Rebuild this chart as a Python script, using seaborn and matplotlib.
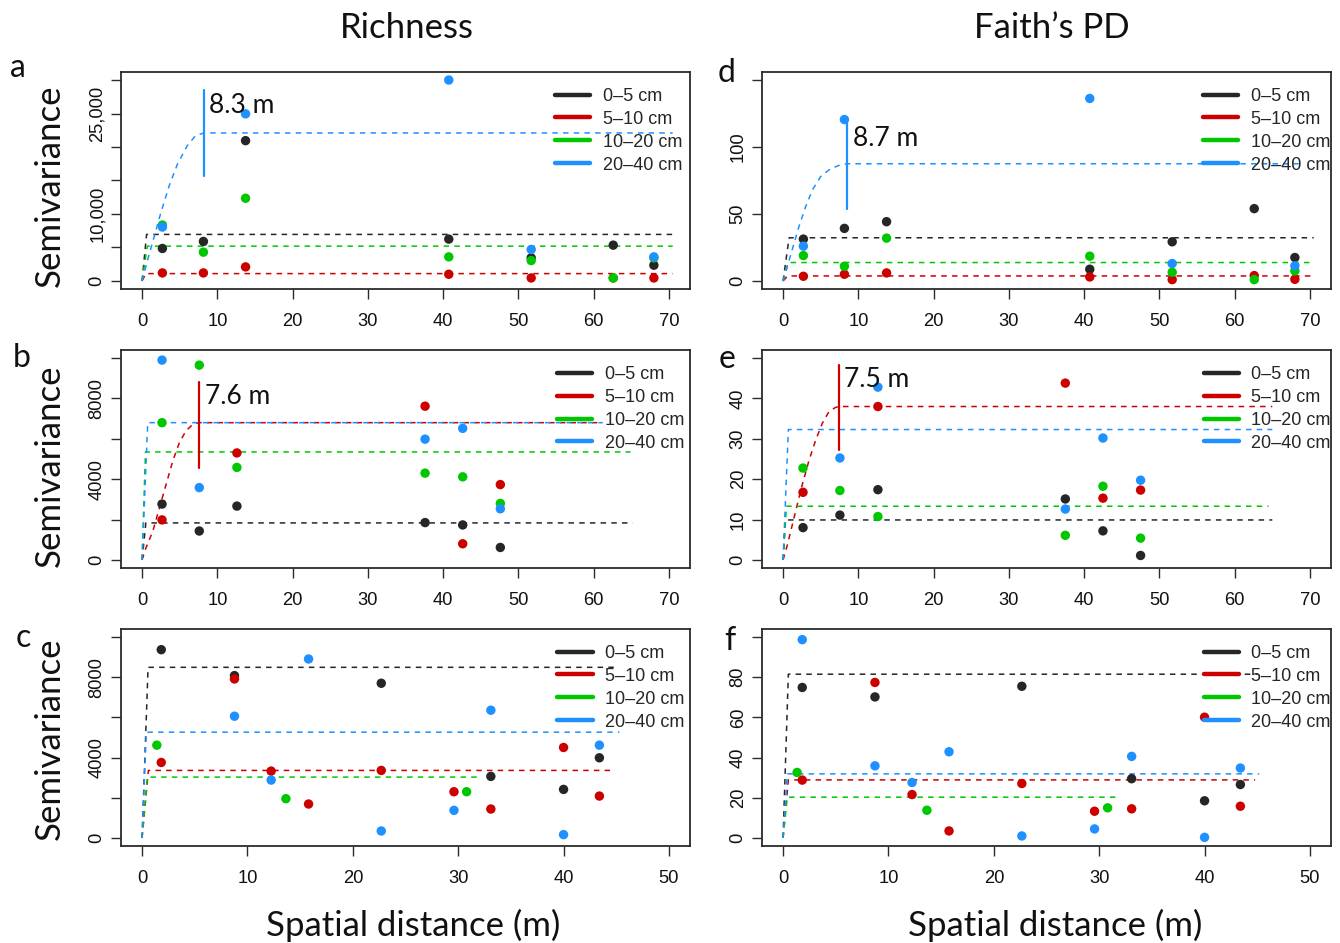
import numpy as np
import pandas as pd
import matplotlib
matplotlib.use("Agg")
import matplotlib.pyplot as plt
from matplotlib.lines import Line2D
import seaborn as sns

# ---------------- data ----------------
DEPTHS = ["0–5 cm", "5–10 cm", "10–20 cm", "20–40 cm"]
COLORS = ["#262626", "#CD0000", "#00C800", "#1E90FF"]

# Panel a : Richness, site 1
A_LAG = [2.7, 8.15, 13.75, 40.75, 51.7, 62.6, 68.0]
A_D1 = [4850, 5900, 20950, 6250, 3450, 5350, 2350]
A_D2 = [1200, 1200, 2100, 1000, 450, 450, 450]
A_D3 = [8350, 4300, 12350, 3600, 3050, 450, 3450]
A_D4 = [8050, None, 24950, 30000, 4700, None, 3600]
A_M1_X, A_M1_Y = [0, 0.6, 70.5], [0, 6950, 6950]
A_M2_X, A_M2_Y = [0, 0.5, 70.5], [0, 1100, 1100]
A_M3_X, A_M3_Y = [0, 0.7, 70.5], [0, 5200, 5200]
A_M4_X = [0, 0.75, 1.63, 2.5, 3.6, 4.7, 6.0, 7.1, 8.25, 70.5]
A_M4_Y = [0, 3200, 6700, 10200, 14200, 17450, 20200, 21700, 22100, 22100]
A_RANGE = [8.25, 15700, 28450]
A_RANGE_TXT = ["8.3 m", 8.9, 26150]

# Panel d : Faith's PD, site 1
D_LAG = [2.7, 8.15, 13.75, 40.75, 51.7, 62.6, 68.0]
D_D1 = [31.25, 39.25, 44.25, 8.75, 29.25, 54, 17.5]
D_D2 = [3.5, 5, 6, 3, 1, 4, 1.25]
D_D3 = [19, 11, 32, 18.5, 6.5, 1, 7.5]
D_D4 = [26, 120.5, None, 136.25, 13, None, 11.25]
D_M1_X, D_M1_Y = [0, 0.8, 70.5], [0, 32.25, 32.25]
D_M2_X, D_M2_Y = [0, 0.6, 70.5], [0, 3.75, 3.75]
D_M3_X, D_M3_Y = [0, 0.7, 70.5], [0, 13.75, 13.75]
D_M4_X = [0, 0.8, 1.46, 2.1, 3.0, 3.9, 5.0, 6.3, 7.65, 8.6, 68.5]
D_M4_Y = [0, 15.5, 28, 40.5, 55.5, 68, 78, 83.75, 86.75, 87.5, 87.5]
D_RANGE = [8.55, 53.5, 118]
D_RANGE_TXT = ["8.7 m", 9.3, 106]

# Panel b : Richness, site 2
B_LAG = [2.65, 7.6, 12.6, 37.6, 42.6, 47.6]
B_D1 = [2767, 1433, 2667, 1850, 1733, 617]
B_D2 = [1983, None, 5300, 7617, 800, 3733]
B_D3 = [6800, 9650, 4583, 4300, 4117, 2800]
B_D4 = [9900, 3583, None, 5983, 6517, 2533]
B_M1_X, B_M1_Y = [0, 0.5, 65.2], [0, 1833, 1833]
B_M2_X = [0, 0.5, 1.42, 2.31, 3.2, 4.09, 4.98, 5.87, 6.76, 7.6, 61.2]
B_M2_Y = [0, 583, 1417, 2583, 3750, 4917, 5833, 6417, 6717, 6800, 6800]
B_M3_X, B_M3_Y = [0, 0.45, 64.9], [0, 5350, 5350]
B_M4_X, B_M4_Y = [0, 0.75, 61.2], [0, 6800, 6800]
B_RANGE = [7.62, 4550, 8820]
B_RANGE_TXT = ["7.6 m", 8.4, 8100]

# Panel e : Faith's PD, site 2
E_LAG = [2.65, 7.55, 12.6, 37.5, 42.5, 47.5]
E_D1 = [8.0, 11.1, 17.4, 15.1, 7.2, 1.1]
E_D2 = [16.75, None, 38.0, 43.8, 15.3, 17.3]
E_D3 = [22.75, 17.2, 10.75, 6.1, 18.25, 5.4]
E_D4 = [None, 25.25, 42.8, 12.6, 30.2, 19.75]
E_M1_X, E_M1_Y = [0, 0.3, 65], [0, 9.9, 9.9]
E_M2_X = [0, 0.58, 1.24, 1.9, 2.57, 3.45, 4.34, 5.2, 6.1, 7.0, 7.5, 65]
E_M2_Y = [0, 3.8, 8.8, 13.8, 18.8, 24.7, 29.7, 33.8, 36.75, 37.8, 38, 38]
E_M3_X, E_M3_Y = [0, 0.45, 64.5], [0, 13.3, 13.3]
E_M4_X, E_M4_Y = [0, 0.7, 65], [0, 32.3, 32.3]
E_RANGE = [7.45, 27.2, 48.4]
E_RANGE_TXT = ["7.5 m", 8.1, 44.7]

# Panel c : Richness, site 3
C_D1_X = [1.82, 8.77, 22.7, 33.1, 40.0, 43.4]
C_D1 = [9371, 8080, 7700, 3063, 2417, 3990]
C_D2_X = [1.82, 8.77, 12.25, 15.8, 22.7, 29.6, 33.1, 40.0, 43.4]
C_D2 = [3758, 7914, 3328, 1689, 3361, 2301, 1440, 4503, 2086]
C_D3_X = [1.4, 13.65, 30.8]
C_D3 = [4619, 1954, 2301]
C_D4_X = [8.77, 12.25, 15.8, 22.7, 29.6, 33.1, 40.0, 43.4]
C_D4 = [6060, 2881, 8907, 348, 1374, 6358, 166, 4619]
C_M1_X, C_M1_Y = [0, 0.57, 45.0], [0, 8493, 8493]
C_M2_X, C_M2_Y = [0, 0.6, 44.9], [0, 3361, 3361]
C_M3_X, C_M3_Y = [0, 0.5, 32.2], [0, 3030, 3030]
C_M4_X, C_M4_Y = [0, 0.4, 45.3], [0, 5265, 5265]

# Panel f : Faith's PD, site 3
F_D1_X = [1.82, 8.72, 22.66, 33.08, 40.0, 43.4]
F_D1 = [74.9, 70.2, 75.5, 29.5, 18.5, 26.6]
F_D2_X = [1.82, 8.72, 12.24, 15.75, 22.66, 29.56, 33.08, 40.0, 43.4]
F_D2 = [28.8, 77.4, 21.6, 3.5, 27.1, 13.3, 14.5, 60.1, 15.8]
F_D3_X = [1.33, 13.65, 30.8]
F_D3 = [32.6, 13.8, 15.0]
F_D4_X = [1.82, 8.72, 12.24, 15.75, 22.66, 29.56, 33.08, 40.0, 43.4]
F_D4 = [98.7, 35.9, 27.6, 42.9, 1.0, 4.5, 40.6, 0.3, 34.8]
F_M1_X, F_M1_Y = [0, 0.5, 45.0], [0, 81.5, 81.5]
F_M2_X, F_M2_Y = [0, 0.5, 44.8], [0, 28.9, 28.9]
F_M3_X, F_M3_Y = [0, 0.4, 32.0], [0, 20.3, 20.3]
F_M4_X, F_M4_Y = [0, 0.4, 45.2], [0, 31.9, 31.9]

# axis ticks
X70_TICKS = [0, 10, 20, 30, 40, 50, 60, 70]
X50_TICKS = [0, 10, 20, 30, 40, 50]
A_YTICKS = [0, 5000, 10000, 15000, 20000, 25000, 30000]
A_YLABELS = ["0", "", "10,000", "", "", "25,000", ""]
D_YTICKS = [0, 50, 100, 150]
D_YLABELS = ["0", "50", "100", ""]
B_YTICKS = [0, 2000, 4000, 6000, 8000, 10000]
B_YLABELS = ["0", "", "4000", "", "8000", ""]
E_YTICKS = [0, 10, 20, 30, 40, 50]
E_YLABELS = ["0", "10", "20", "30", "40", ""]
C_YTICKS = [0, 2000, 4000, 6000, 8000, 10000]
C_YLABELS = ["0", "", "4000", "", "8000", ""]
F_YTICKS = [0, 20, 40, 60, 80, 100]
F_YLABELS = ["0", "20", "40", "60", "80", ""]

# ---------------- style ----------------
sns.set_style("white")
plt.rcParams["font.family"] = ["Liberation Sans", "DejaVu Sans"]
TITLE_FONT = ["Lato", "DejaVu Sans"]
DASH = (0, (3.6, 3.4))
INK = "#2b2b2b"

W, H = 1340, 943
fig = plt.figure(figsize=(W / 100, H / 100), dpi=100)


def px_axes(left, top, right, bottom):
    return fig.add_axes([left / W, 1 - bottom / H, (right - left) / W, (bottom - top) / H])


def pad(lo, hi):
    d = (hi - lo) * 0.04
    return lo - d, hi + d


def draw_panel(ax, xs, ys, models, xlim, ylim, xticks, yticks, ylabels,
               rng=None, rng_color=None, rng_txt=None, leg_x=0.765):
    # model (fitted) lines
    for (mx, my), col in zip(models, COLORS):
        sns.lineplot(x=mx, y=my, ax=ax, color=col, lw=1.1, linestyle=DASH,
                     sort=False, estimator=None, zorder=2)
    # empirical semivariance points
    rows = []
    for xv, yv, dep in zip(xs, ys, DEPTHS):
        for a, b in zip(xv, yv):
            if b is not None:
                rows.append({"lag": a, "gamma": b, "depth": dep})
    df = pd.DataFrame(rows)
    sns.scatterplot(data=df, x="lag", y="gamma", hue="depth", hue_order=DEPTHS,
                    palette=COLORS, s=46, linewidth=0, legend=False, ax=ax, zorder=3)
    if rng is not None:
        ax.plot([rng[0], rng[0]], [rng[1], rng[2]], color=rng_color, lw=1.6, zorder=4)
        ax.text(rng_txt[1], rng_txt[2], rng_txt[0], fontsize=19, family=TITLE_FONT,
                ha="left", va="center", color="#111111", zorder=5)
    ax.set_xlim(*pad(*xlim))
    ax.set_ylim(*pad(*ylim))
    ax.set_xticks(xticks)
    ax.set_xticklabels([str(t) for t in xticks])
    ax.set_yticks(yticks)
    ax.set_yticklabels(ylabels)
    ax.set_xlabel("")
    ax.set_ylabel("")
    ax.tick_params(axis="both", direction="out", length=7, width=1.0, color=INK,
                   labelsize=13.2, labelcolor="#111111", bottom=True, left=True,
                   top=False, right=False)
    ax.tick_params(axis="x", pad=10)
    ax.tick_params(axis="y", pad=4)
    plt.setp(ax.get_yticklabels(), rotation=90, va="center")
    for sp in ax.spines.values():
        sp.set_visible(True)
        sp.set_color(INK)
        sp.set_linewidth(1.3)
    handles = [Line2D([], [], color=c, lw=3.2) for c in COLORS]
    ax.legend(handles, DEPTHS, loc="upper left", bbox_to_anchor=(leg_x, 0.927),
              frameon=False, fontsize=13, handlelength=1.95, handletextpad=0.7,
              labelspacing=0.33, borderpad=0, borderaxespad=0)


LX0, LX1 = 121, 690
RX0, RX1 = 762, 1331
ROWS = [(72, 289), (350, 568), (629, 846)]

ax_a = px_axes(LX0, ROWS[0][0], LX1, ROWS[0][1])
draw_panel(ax_a, [A_LAG] * 4, [A_D1, A_D2, A_D3, A_D4],
           [(A_M1_X, A_M1_Y), (A_M2_X, A_M2_Y), (A_M3_X, A_M3_Y), (A_M4_X, A_M4_Y)],
           (0, 70), (0, 30000), X70_TICKS, A_YTICKS, A_YLABELS,
           A_RANGE, COLORS[3], A_RANGE_TXT, leg_x=0.763)

ax_d = px_axes(RX0, ROWS[0][0], RX1, ROWS[0][1])
draw_panel(ax_d, [D_LAG] * 4, [D_D1, D_D2, D_D3, D_D4],
           [(D_M1_X, D_M1_Y), (D_M2_X, D_M2_Y), (D_M3_X, D_M3_Y), (D_M4_X, D_M4_Y)],
           (0, 70), (0, 150), X70_TICKS, D_YTICKS, D_YLABELS,
           D_RANGE, COLORS[3], D_RANGE_TXT, leg_x=0.775)

ax_b = px_axes(LX0, ROWS[1][0], LX1, ROWS[1][1])
draw_panel(ax_b, [B_LAG] * 4, [B_D1, B_D2, B_D3, B_D4],
           [(B_M1_X, B_M1_Y), (B_M2_X, B_M2_Y), (B_M3_X, B_M3_Y), (B_M4_X, B_M4_Y)],
           (0, 70), (0, 10000), X70_TICKS, B_YTICKS, B_YLABELS,
           B_RANGE, COLORS[1], B_RANGE_TXT, leg_x=0.766)

ax_e = px_axes(RX0, ROWS[1][0], RX1, ROWS[1][1])
draw_panel(ax_e, [E_LAG] * 4, [E_D1, E_D2, E_D3, E_D4],
           [(E_M1_X, E_M1_Y), (E_M2_X, E_M2_Y), (E_M3_X, E_M3_Y), (E_M4_X, E_M4_Y)],
           (0, 70), (0, 50), X70_TICKS, E_YTICKS, E_YLABELS,
           E_RANGE, COLORS[1], E_RANGE_TXT, leg_x=0.776)

ax_c = px_axes(LX0, ROWS[2][0], LX1, ROWS[2][1])
draw_panel(ax_c, [C_D1_X, C_D2_X, C_D3_X, C_D4_X], [C_D1, C_D2, C_D3, C_D4],
           [(C_M1_X, C_M1_Y), (C_M2_X, C_M2_Y), (C_M3_X, C_M3_Y), (C_M4_X, C_M4_Y)],
           (0, 50), (0, 10000), X50_TICKS, C_YTICKS, C_YLABELS, leg_x=0.767)

ax_f = px_axes(RX0, ROWS[2][0], RX1, ROWS[2][1])
draw_panel(ax_f, [F_D1_X, F_D2_X, F_D3_X, F_D4_X], [F_D1, F_D2, F_D3, F_D4],
           [(F_M1_X, F_M1_Y), (F_M2_X, F_M2_Y), (F_M3_X, F_M3_Y), (F_M4_X, F_M4_Y)],
           (0, 50), (0, 100), X50_TICKS, F_YTICKS, F_YLABELS, leg_x=0.776)

# ---------------- figure texts ----------------
def ftext(x, y, s, **kw):
    fig.text(x / W, 1 - y / H, s, family=TITLE_FONT, color="#111111", **kw)

ftext(407, 28, "Richness", fontsize=25, ha="center", va="center")
ftext(1052, 28, "Faith’s PD", fontsize=25, ha="center", va="center")
for yc in (186, 466, 739):
    ftext(50, yc, "Semivariance", fontsize=25, ha="center", va="center", rotation=90)
ftext(413, 925, "Spatial distance (m)", fontsize=25, ha="center", va="center")
ftext(1055, 925, "Spatial distance (m)", fontsize=25, ha="center", va="center")
for lab, x, y in [("a", 18, 77), ("b", 22, 367), ("c", 23, 647),
                  ("d", 727, 82), ("e", 727, 368), ("f", 730, 650)]:
    ftext(x, y, lab, fontsize=23, ha="center", va="baseline")

fig.savefig("out.png", dpi=100)
